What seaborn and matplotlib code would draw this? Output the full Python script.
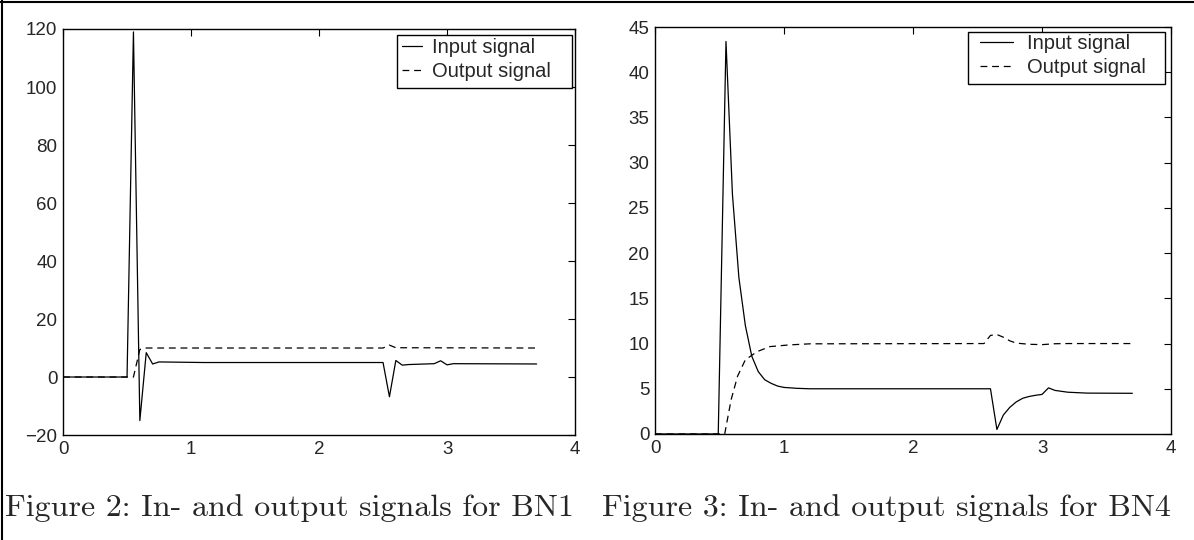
import numpy as np
import pandas as pd
import matplotlib
matplotlib.use("Agg")
import matplotlib.pyplot as plt
import seaborn as sns
from matplotlib.lines import Line2D
from matplotlib.patches import Rectangle

# =============================================
# DATA
# =============================================
# BN1 - input signal
t1_in = [0, 0.50, 0.55, 0.60, 0.65, 0.70, 0.75, 1.10, 2.50, 2.55, 2.60,
         2.65, 2.70, 2.90, 2.95, 3.00, 3.05, 3.70]
u1_in = [0, 0, 119, -15, 8.4, 4.5, 5.2, 5.0, 5.0, -6.8, 5.7,
         4.1, 4.3, 4.6, 5.6, 4.2, 4.6, 4.5]
# BN1 - output signal
t1_out = [0, 0.55, 0.60, 0.65, 2.50, 2.55, 2.60, 3.70]
y1_out = [0, 0, 9.5, 10, 10, 11, 10.1, 10]

# BN4 - input signal
t4_in = [0, 0.49, 0.55, 0.60, 0.65, 0.70, 0.75, 0.80, 0.85, 0.90, 0.95,
         1.00, 1.10, 1.20, 2.60, 2.65, 2.70, 2.75, 2.80, 2.85, 2.90, 2.95,
         3.00, 3.05, 3.10, 3.20, 3.35, 3.70]
u4_in = [0, 0, 43.4, 26.5, 17.3, 12.0, 8.6, 6.9, 6.0, 5.6, 5.3,
         5.15, 5.05, 5.0, 5.0, 0.5, 2.1, 2.95, 3.55, 3.95, 4.15, 4.28,
         4.38, 5.1, 4.82, 4.62, 4.52, 4.5]
# BN4 - output signal
t4_out = [0, 0.54, 0.59, 0.64, 0.70, 0.79, 0.89, 1.04, 1.20, 2.55, 2.60,
          2.65, 2.70, 2.75, 2.80, 2.90, 3.00, 3.10, 3.20, 3.70]
y4_out = [0, 0, 3.8, 6.4, 8.2, 9.1, 9.66, 9.85, 9.97, 10, 10.9,
          11.0, 10.7, 10.3, 10.05, 9.92, 9.88, 9.98, 10.0, 10.0]

x_ticks = [0, 1, 2, 3, 4]
y_ticks_bn1 = list(range(-20, 121, 20))
y_ticks_bn4 = list(range(0, 46, 5))

captions = ["Figure 2: In- and output signals for BN1",
            "Figure 3: In- and output signals for BN4"]

# =============================================
# STYLE
# =============================================
sns.set_style("white")
plt.rcParams['font.family'] = ['Liberation Sans', 'DejaVu Sans']
plt.rcParams['xtick.direction'] = 'in'
plt.rcParams['ytick.direction'] = 'in'

fig = plt.figure(figsize=(11.94, 5.40), dpi=100)
ax1 = fig.add_axes([0.0528, 0.1944, 0.4288, 0.7519])
ax2 = fig.add_axes([0.5486, 0.1963, 0.4322, 0.7537])

DASH = (0, (5.5, 3.8))

# legend frame box (x0, y0, x1, y1) and entries anchor, in axes fractions
panels = [
    dict(ax=ax1, t_in=t1_in, u_in=u1_in, t_out=t1_out, y_out=y1_out,
         ylim=(-20, 120), yticks=y_ticks_bn1,
         box=(0.6523, 0.8547, 0.9941, 0.9852), anchor=(0.6621, 0.9773),
         hl=1.0, tp=0.5),
    dict(ax=ax2, t_in=t4_in, u_in=u4_in, t_out=t4_out, y_out=y4_out,
         ylim=(0, 45), yticks=y_ticks_bn4,
         box=(0.6066, 0.8600, 0.9884, 0.9877), anchor=(0.6298, 0.9823),
         hl=1.65, tp=0.7),
]

for p in panels:
    ax = p['ax']
    sns.lineplot(x=p['t_in'], y=p['u_in'], ax=ax, color='black', lw=0.9,
                 label='Input signal')
    sns.lineplot(x=p['t_out'], y=p['y_out'], ax=ax, color='black', lw=0.9,
                 linestyle=DASH, label='Output signal')
    ax.set_xlim(0, 4)
    ax.set_ylim(*p['ylim'])
    ax.set_xticks(x_ticks)
    ax.set_yticks(p['yticks'])
    ax.tick_params(labelsize=13.5, length=5, width=0.8, color='black',
                   top=True, right=True, pad=4)
    for sp in ax.spines.values():
        sp.set_visible(True)
        sp.set_color('black')
        sp.set_linewidth(1.0)

    # MATLAB-style legend: square frame with extra room on the right
    x0, y0, x1, y1 = p['box']
    ax.add_patch(Rectangle((x0, y0), x1 - x0, y1 - y0, transform=ax.transAxes,
                           facecolor='white', edgecolor='black', lw=1.0,
                           clip_on=False, zorder=5))
    leg = ax.legend(loc='upper left', bbox_to_anchor=p['anchor'],
                    fontsize=14.5, frameon=False, borderaxespad=0,
                    borderpad=0, labelspacing=0.25,
                    handlelength=p['hl'], handletextpad=p['tp'])
    leg.set_zorder(6)

# captions
fig.text(0.004, 0.059, captions[0], family='cmr10', fontsize=23,
         va='center', ha='left')
fig.text(0.504, 0.059, captions[1], family='cmr10', fontsize=23,
         va='center', ha='left')

# page border lines (top and left)
fig.add_artist(Line2D([0, 1], [0.996, 0.996], transform=fig.transFigure,
                      color='black', lw=1.5))
fig.add_artist(Line2D([0.002, 0.002], [0, 1], transform=fig.transFigure,
                      color='black', lw=1.5))

plt.savefig('out.png', dpi=100)
